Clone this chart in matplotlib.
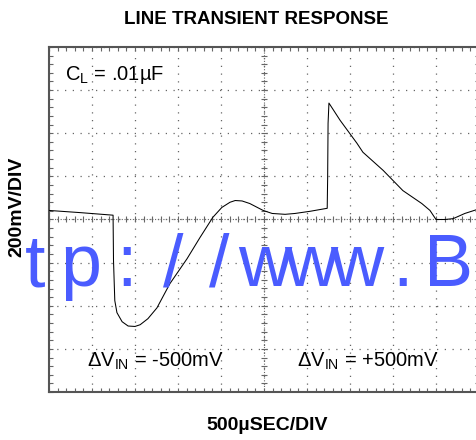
import numpy as np
import matplotlib
matplotlib.use("Agg")
import matplotlib.pyplot as plt
from matplotlib.ticker import MultipleLocator

plt.rcParams['font.family'] = ['Liberation Sans', 'DejaVu Sans']
plt.rcParams['mathtext.fontset'] = 'custom'
plt.rcParams['mathtext.rm'] = 'Liberation Sans'
plt.rcParams['mathtext.it'] = 'Liberation Sans:italic'
plt.rcParams['mathtext.bf'] = 'Liberation Sans:bold'

# scope trace, in divisions (x: 500us/div, y: 200mV/div, 0 = centre line)
t_div = [0.0, 0.72, 1.49, 1.50, 1.53, 1.58, 1.70, 1.84, 2.00, 2.12, 2.30, 2.51,
         2.81, 3.21, 3.51, 3.81, 4.02, 4.21, 4.33, 4.49, 4.67, 4.98, 5.19, 5.49,
         5.72, 6.07, 6.47, 6.48, 6.49, 6.51, 6.77, 7.16, 7.30, 7.77, 8.23, 8.67,
         8.86, 9.0, 9.21, 9.40, 9.67, 9.95]
v_div = [0.21, 0.16, 0.10, -0.95, -1.88, -2.16, -2.37, -2.47, -2.48, -2.44, -2.30, -2.05,
         -1.49, -0.91, -0.42, 0.05, 0.28, 0.40, 0.44, 0.43, 0.37, 0.21, 0.14, 0.12,
         0.14, 0.19, 0.26, 0.95, 2.23, 2.70, 2.30, 1.77, 1.56, 1.14, 0.67, 0.37,
         0.21, 0.0, 0.0, 0.02, 0.14, 0.23]

title = 'LINE TRANSIENT RESPONSE'
xlab = '500µSEC/DIV'
ylab = '200mV/DIV'
cap_note = r'C$_{\rm L}$ = .01µF'
dv_neg = r'$\Delta$V$_{\rm IN}$ = -500mV'
dv_pos = r'$\Delta$V$_{\rm IN}$ = +500mV'
watermark = 'http://www.B'

W, H = 477, 440
fig = plt.figure(figsize=(W / 100, H / 100), dpi=100)
ax = fig.add_axes([49 / W, 48 / H, 430 / W, 345 / H])
ax.set_xlim(0, 10)
ax.set_ylim(-4, 4)

# scope graticule
grid_c = '#666666'
ax.xaxis.set_major_locator(MultipleLocator(1))
ax.yaxis.set_major_locator(MultipleLocator(1))
ax.xaxis.set_minor_locator(MultipleLocator(0.2))
ax.yaxis.set_minor_locator(MultipleLocator(0.2))
ax.tick_params(which='both', direction='in', top=True, right=True,
               labelbottom=False, labelleft=False, color=grid_c, width=0.8)
ax.tick_params(which='major', length=3)
ax.tick_params(which='minor', length=3)
ax.grid(True, which='major', color=grid_c, linestyle=(0, (1.0, 5.2)), linewidth=0.9)
for s in ax.spines.values():
    s.set_color('#555555')
    s.set_linewidth(1.5)

# centre cross with small ticks
ax.axhline(0, color=grid_c, linestyle=(0, (1, 1.5)), linewidth=0.8)
ax.axvline(5, color=grid_c, linestyle=(0, (1, 1.5)), linewidth=0.8)
mx = np.arange(0, 10.01, 0.2)
my = np.arange(-4, 4.01, 0.2)
ax.plot(mx, np.zeros_like(mx), ls='none', marker='|', ms=4, mew=0.8, color=grid_c)
ax.plot(np.full_like(my, 5), my, ls='none', marker='_', ms=4, mew=0.8, color=grid_c)

ax.plot(t_div, v_div, color='black', linewidth=0.75, zorder=5)

ax.text(0.38, 3.34, cap_note, fontsize=14.5, va='center', ha='left')
ax.text(0.88, -3.3, dv_neg, fontsize=14.5, va='center', ha='left')
ax.text(5.77, -3.3, dv_pos, fontsize=14.5, va='center', ha='left')

fig.text(256 / W, 1 - 19 / H, title, fontsize=13.5, fontweight='bold', ha='center', va='center')
fig.text(267 / W, 1 - 425 / H, xlab, fontsize=14, fontweight='bold', ha='center', va='center')
fig.text(17 / W, 1 - 207 / H, ylab, fontsize=14, fontweight='bold', ha='center', va='center',
         rotation=90)

# blue watermark, one character per fixed cell
for i, ch in enumerate(watermark):
    fig.text((35 + 46 * (i - 2)) / W, 1 - 286 / H, ch, fontsize=53, color='#4a5cff',
             ha='center', va='baseline', zorder=10)

fig.savefig('out.png', dpi=100)
